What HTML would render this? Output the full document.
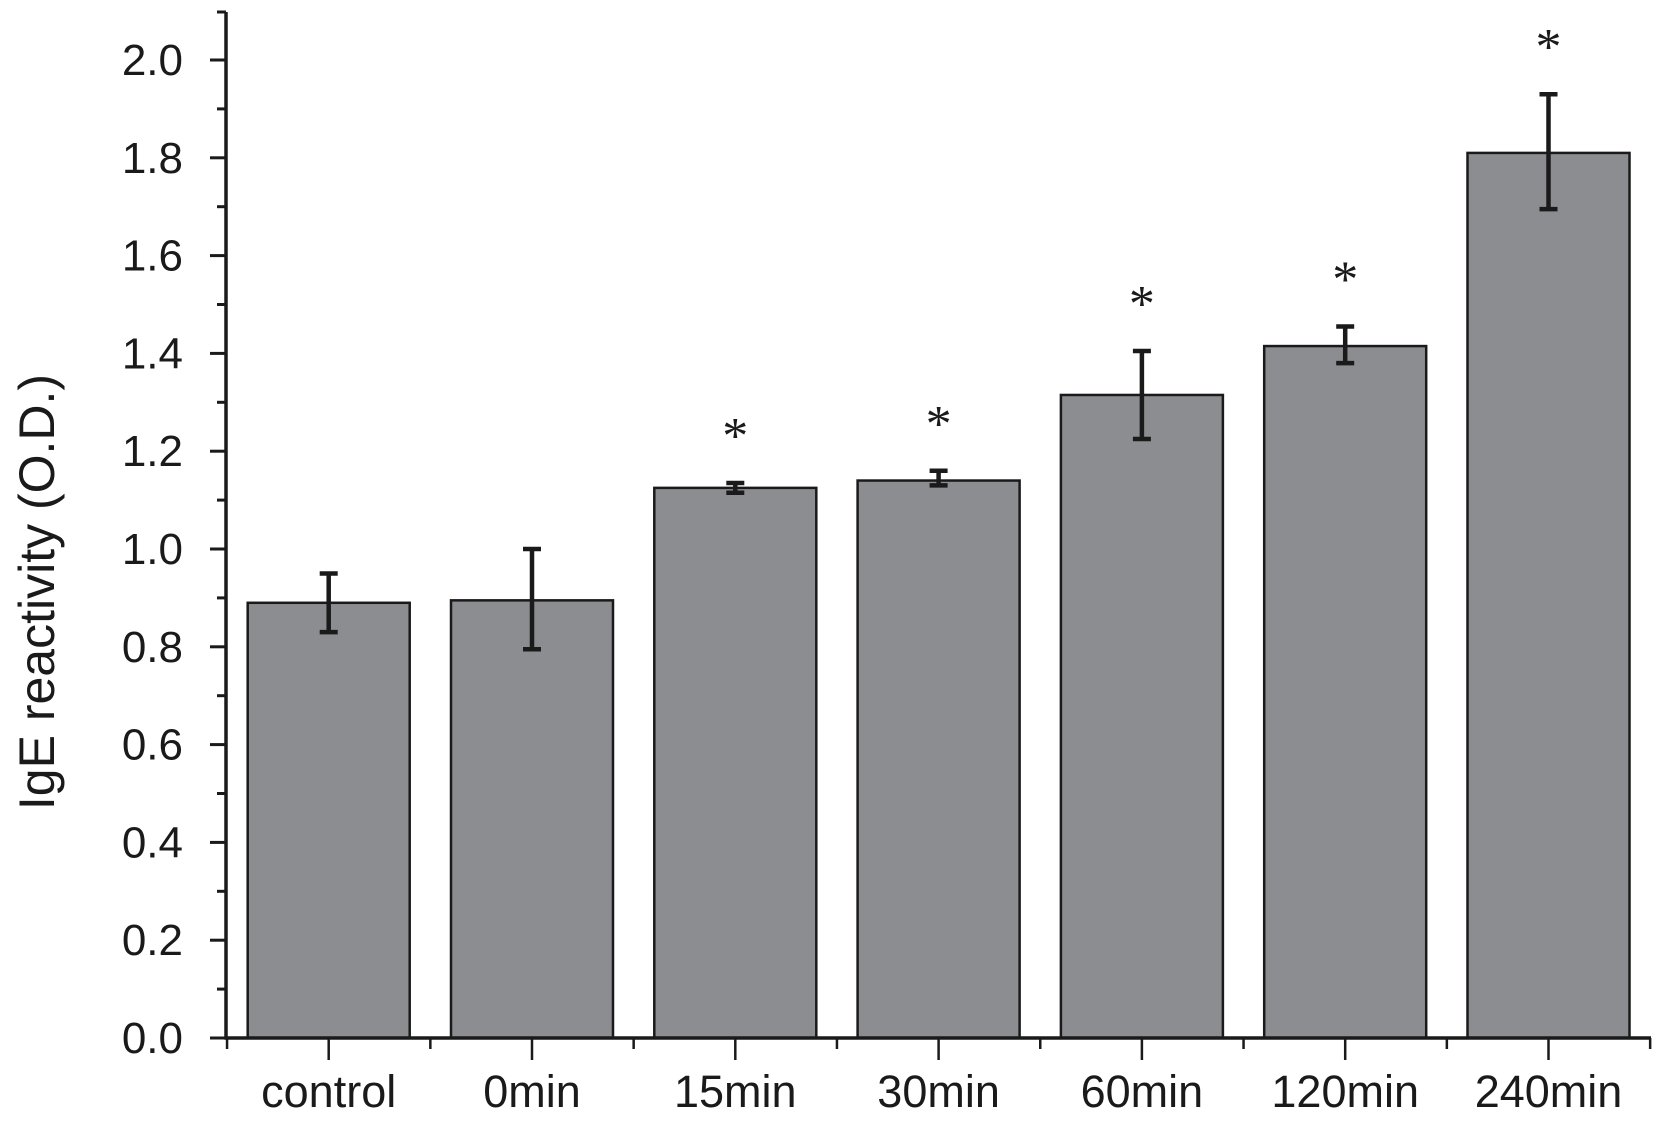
<!DOCTYPE html>
<html><head><meta charset="utf-8">
<style>
html,body{margin:0;padding:0;background:#fff;}
svg{display:block;font-family:"Liberation Sans",Arial,sans-serif;}
</style></head>
<body>
<svg id="chart" width="1660" height="1127" viewBox="0 0 1660 1127"></svg>
<script>
const categories = ["control","0min","15min","30min","60min","120min","240min"];
const values = [0.89,0.895,1.125,1.14,1.315,1.415,1.81];
const errHigh = [0.95,1.0,1.135,1.16,1.405,1.455,1.93];
const errLow = [0.83,0.795,1.115,1.13,1.225,1.38,1.695];
const significant = [false,false,true,true,true,true,true];
const yTicks = ["0.0","0.2","0.4","0.6","0.8","1.0","1.2","1.4","1.6","1.8","2.0"];

const NS="http://www.w3.org/2000/svg";
const svg=document.getElementById('chart');
const x0=226, xEnd=1651, yZero=1038, yTop=60, vMax=2.0;
const step=203.3, firstCenter=328.7, barW=162;
function y(v){return yZero-(v/vMax)*(yZero-yTop);}
function xc(i){return firstCenter+i*step;}
function el(tag,attrs){const e=document.createElementNS(NS,tag);for(const k in attrs)e.setAttribute(k,attrs[k]);svg.appendChild(e);return e;}

categories.forEach((c,i)=>{
  const b=el('rect',{x:xc(i)-barW/2,y:y(values[i]),width:barW,height:yZero-y(values[i]),fill:'#8c8d90',stroke:'#1a1a1a','stroke-width':2.5});
  
  
  const eb=el('path',{d:`M${xc(i)},${y(errHigh[i])}V${y(errLow[i])}M${xc(i)-9},${y(errHigh[i])}H${xc(i)+9}M${xc(i)-9},${y(errLow[i])}H${xc(i)+9}`,stroke:'#1a1a1a','stroke-width':4.5,fill:'none'});
  
  
  if(significant[i]){
    const s=el('text',{x:xc(i),y:y(errHigh[i])-30,'text-anchor':'middle','font-size':52,'font-family':'Liberation Serif, serif',fill:'#1a1a1a'});
    s.textContent='*';
    
    
  }
  const t=el('text',{x:xc(i),y:1107,'text-anchor':'middle','font-size':45,fill:'#1a1a1a'});
  t.textContent=c;
  
  
});

const ax=el('path',{d:`M${x0},12V${yZero}H${xEnd}`,stroke:'#1a1a1a','stroke-width':3.5,fill:'none'});


for(let k=0;k<=20;k++){
  const v=k*0.1, yy=y(v);
  el('line',{x1:x0-(k%2?9:16),x2:x0,y1:yy,y2:yy,stroke:'#1a1a1a','stroke-width':3});
}
el('line',{x1:x0-9,x2:x0,y1:12,y2:12,stroke:'#1a1a1a','stroke-width':3});
yTicks.forEach((lab,k)=>{
  const t=el('text',{x:183,y:y(parseFloat(lab))+15,'text-anchor':'end','font-size':44,fill:'#1a1a1a'});
  t.textContent=lab;
  
  
});
categories.forEach((c,i)=>{
  el('line',{x1:xc(i),x2:xc(i),y1:yZero,y2:yZero+22,stroke:'#1a1a1a','stroke-width':2.5});
  const bx=xc(i)-step/2;
  el('line',{x1:bx,x2:bx,y1:yZero,y2:yZero+11,stroke:'#1a1a1a','stroke-width':2.5});
});
el('line',{x1:xc(6)+step/2,x2:xc(6)+step/2,y1:yZero,y2:yZero+11,stroke:'#1a1a1a','stroke-width':2.5});
const yt=el('text',{x:0,y:0,'text-anchor':'middle','font-size':50,fill:'#1a1a1a',transform:'translate(54,592) rotate(-90)'});
yt.textContent='IgE reactivity (O.D.)';


</script>
</body></html>
